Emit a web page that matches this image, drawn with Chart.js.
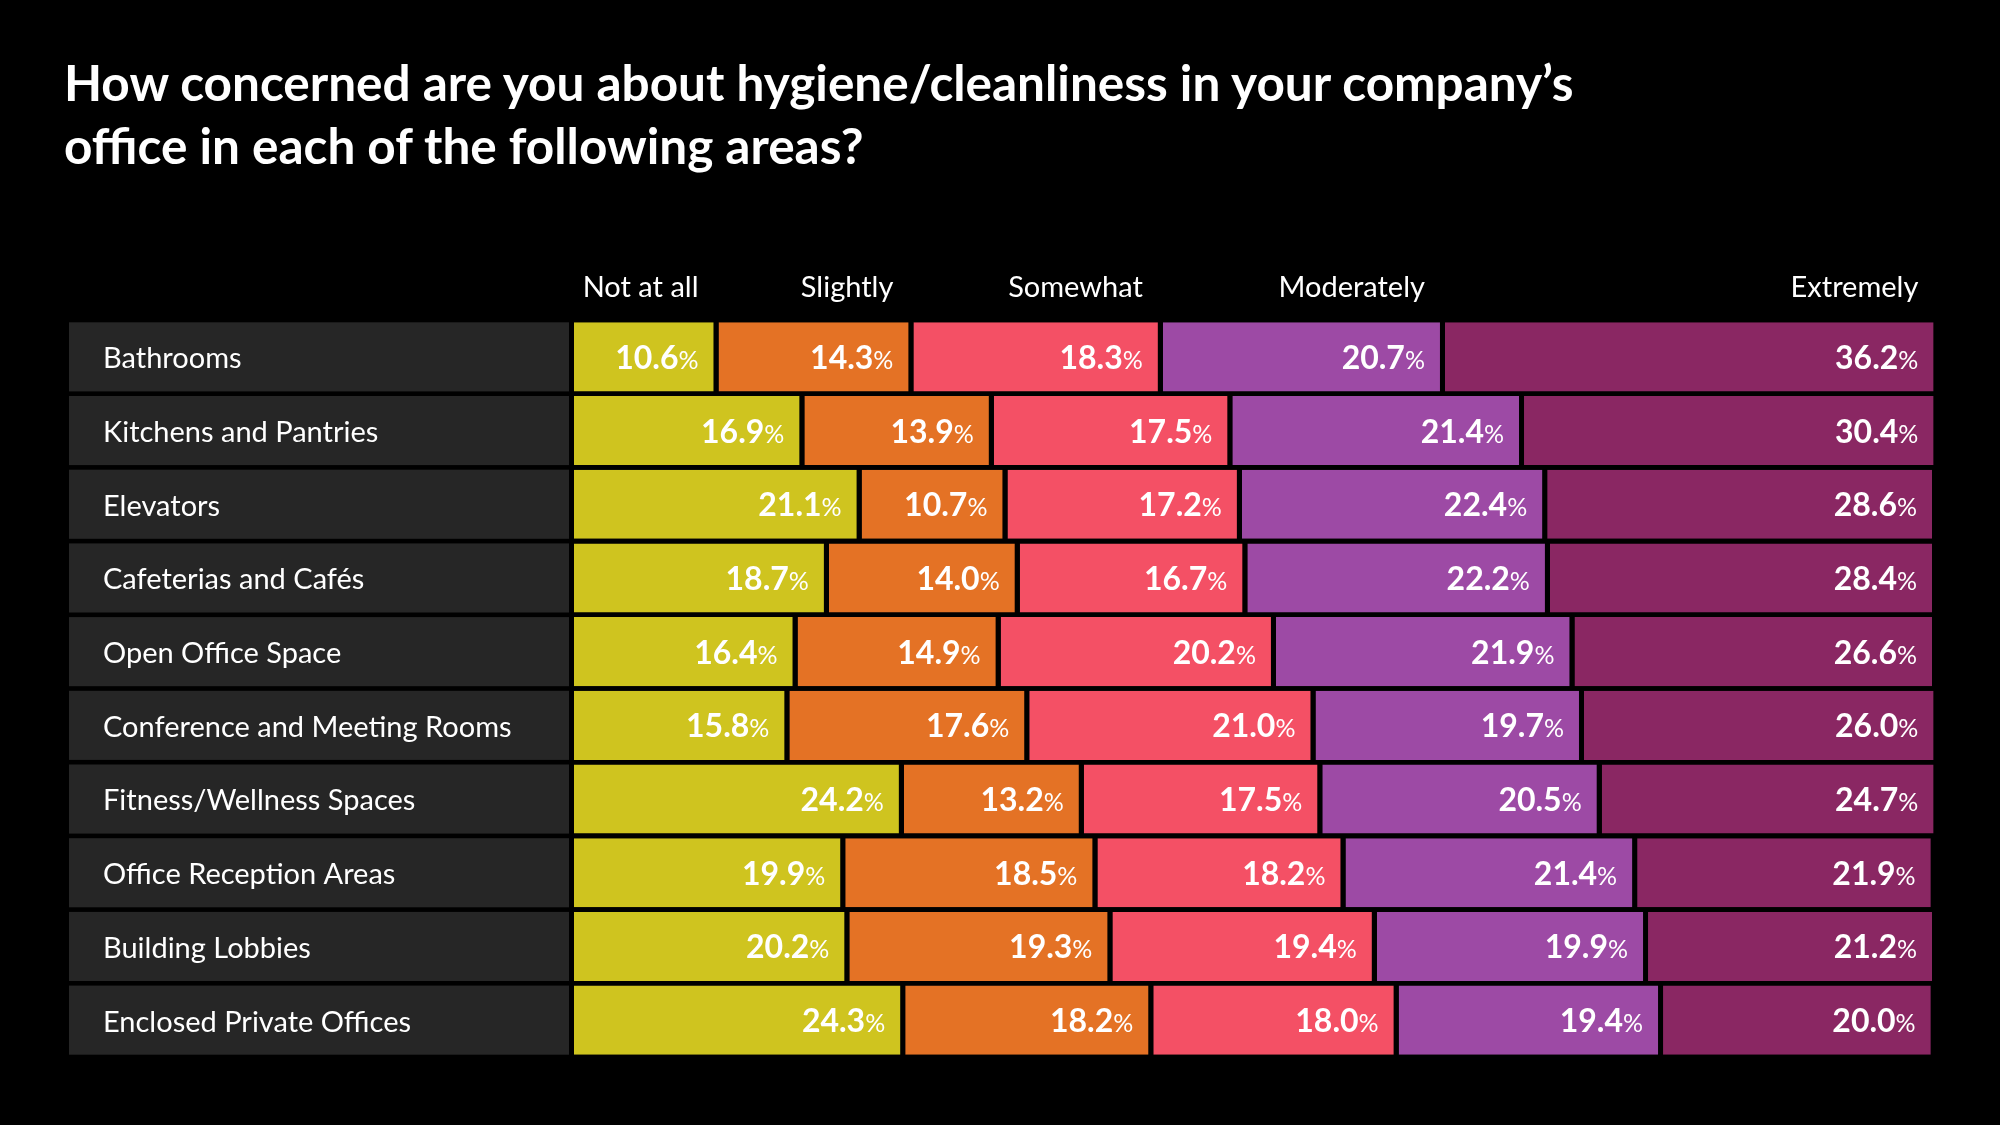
<!DOCTYPE html>
<html>
<head>
<meta charset="utf-8">
<script src="https://cdn.jsdelivr.net/npm/chart.js@4.4.1/dist/chart.umd.min.js"></script>
<style>
  html, body { margin: 0; padding: 0; background: #000; }
  #wrap { position: relative; width: 2000px; height: 1125px; background: #000; }
  #title { position: absolute; left: 64px; top: 51px; margin: 0; color: #fff;
           font: 700 49.5px Lato, sans-serif; line-height: 63px; }
  canvas { position: absolute; left: 0; top: 0; }
</style>
</head>
<body>
<div id="wrap">
  <h1 id="title">How concerned are you about hygiene/cleanliness in your company’s<br>office in each of the following areas?</h1>
  <canvas id="myChart" width="2000" height="1125"></canvas>
</div>
<script>
const categories = [
    'Bathrooms',
    'Kitchens and Pantries',
    'Elevators',
    'Cafeterias and Cafés',
    'Open Office Space',
    'Conference and Meeting Rooms',
    'Fitness/Wellness Spaces',
    'Office Reception Areas',
    'Building Lobbies',
    'Enclosed Private Offices'
];
const levels = ['Not at all', 'Slightly', 'Somewhat', 'Moderately', 'Extremely'];

const notAtAll   = [10.6, 16.9, 21.1, 18.7, 16.4, 15.8, 24.2, 19.9, 20.2, 24.3];
const slightly   = [14.3, 13.9, 10.7, 14.0, 14.9, 17.6, 13.2, 18.5, 19.3, 18.2];
const somewhat   = [18.3, 17.5, 17.2, 16.7, 20.2, 21.0, 17.5, 18.2, 19.4, 18.0];
const moderately = [20.7, 21.4, 22.4, 22.2, 21.9, 19.7, 20.5, 21.4, 19.9, 19.4];
const extremely  = [36.2, 30.4, 28.6, 28.4, 26.6, 26.0, 24.7, 21.9, 21.2, 20.0];

const colors = ['#cfc41f', '#e47225', '#f45065', '#9d4aa5', '#8a2763'];
const series = [notAtAll, slightly, somewhat, moderately, extremely];

const GAP = 5;

// dark label panels behind the category names, plus value and header text
const decor = {
    id: 'decor',
    beforeDraw(chart) {
        const { ctx, chartArea, scales: { y } } = chart;
        const h = chart.getDatasetMeta(0).data[0].height;
        ctx.save();
        ctx.fillStyle = '#262626';
        categories.forEach((c, i) => {
            const cy = y.getPixelForTick(i);
            ctx.fillRect(chartArea.left - 505, cy - h / 2, 500, h);
        });
        ctx.restore();
    },
    afterDatasetsDraw(chart) {
        const { ctx, chartArea } = chart;
        ctx.save();
        ctx.fillStyle = '#fff';
        ctx.textBaseline = 'alphabetic';
        ctx.textAlign = 'right';
        chart.data.datasets.forEach((ds, di) => {
            const meta = chart.getDatasetMeta(di);
            meta.data.forEach((bar, i) => {
                const right = bar.x - GAP - 15;
                ctx.font = '400 25px Lato';
                const pw = ctx.measureText('%').width;
                ctx.fillText('%', right, bar.y + 12);
                ctx.font = '700 32px Lato';
                ctx.fillText(ds.data[i].toFixed(1), right - pw, bar.y + 12);
            });
            // column header, right-aligned with the first row's value
            ctx.font = '400 29px Lato';
            ctx.fillText(ds.label, meta.data[0].x - GAP - 15, chartArea.top - 23);
        });
        ctx.restore();
    }
};

new Chart(document.getElementById('myChart'), {
    type: 'bar',
    data: {
        labels: categories,
        datasets: series.map((d, i) => ({
            label: levels[i],
            data: d,
            backgroundColor: colors[i],
            borderColor: '#000',
            borderWidth: { left: 0, right: GAP, top: 0, bottom: 0 },
            borderSkipped: false,
            categoryPercentage: 1,
            barPercentage: 0.9375
        }))
    },
    options: {
        indexAxis: 'y',
        responsive: false,
        animation: false,
        layout: { padding: { top: 320, bottom: 68, left: 103, right: 63 } },
        scales: {
            x: { stacked: true, min: 0, max: 100, display: false },
            y: {
                stacked: true,
                grid: { display: false },
                border: { display: false },
                ticks: { crossAlign: 'far', autoSkip: false, labelOffset: 2, color: '#fff', font: { family: 'Lato', size: 29 } },
                afterFit(scale) { scale.width = 471; }
            }
        },
        plugins: {
            legend: { display: false },
            tooltip: { enabled: false }
        }
    },
    plugins: [decor]
});
</script>
</body>
</html>
